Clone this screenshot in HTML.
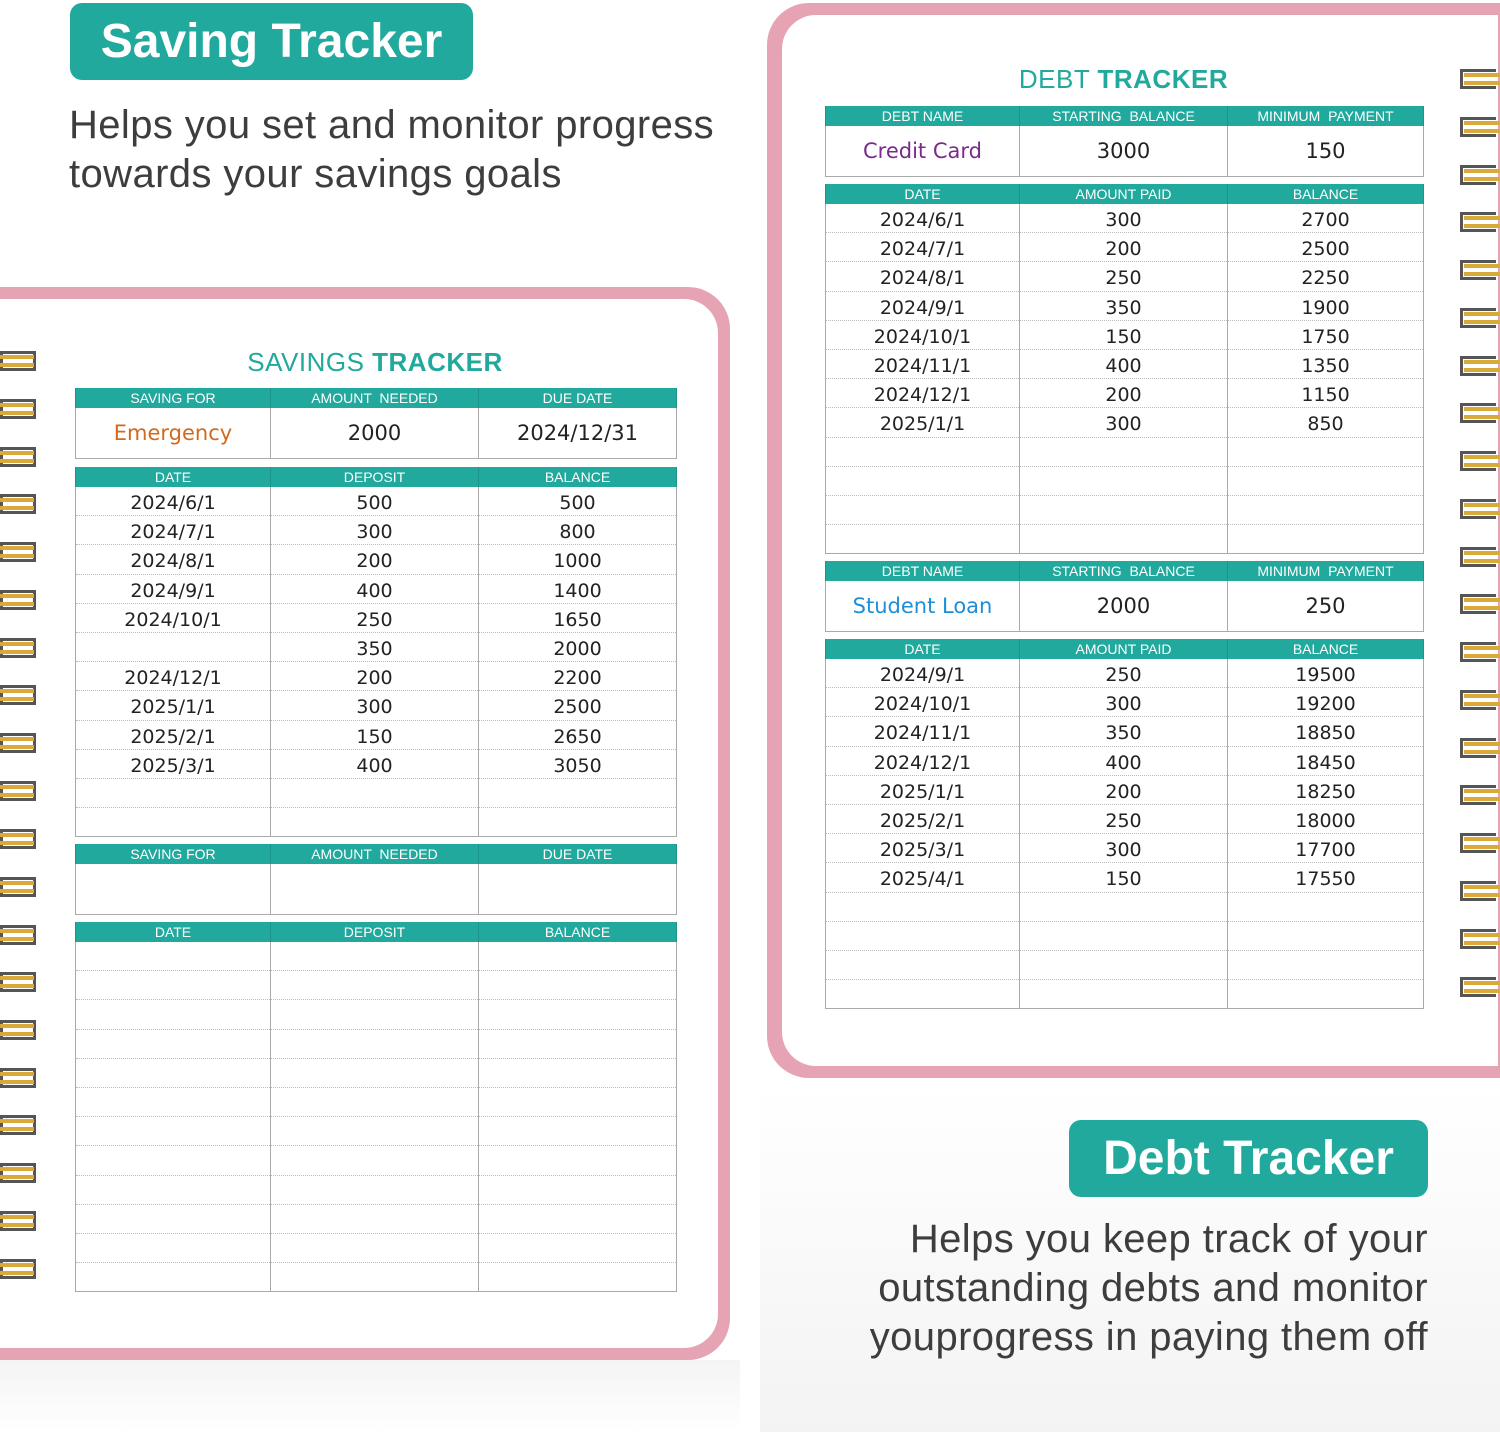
<!DOCTYPE html>
<html><head><meta charset="utf-8"><style>
body{margin:0;width:1500px;height:1432px;position:relative;overflow:hidden;background:#fff;font-family:"Liberation Sans",sans-serif}
.a{position:absolute}
.badge{background:#21a99d;color:#fff;font-weight:bold;border-radius:12px;font-size:48px;text-align:center;box-sizing:border-box}
.sub{color:#3d3d3d;font-size:40px;line-height:49px;letter-spacing:0.4px}
table{position:absolute;border-collapse:collapse;table-layout:fixed;font-family:"Liberation Sans",sans-serif}
td{border-left:1px solid #aaa;border-right:1px solid #aaa;text-align:center;padding:0;color:#222;font-size:19px;font-family:"DejaVu Sans",sans-serif;font-weight:normal}
tr.h td{background:#21a99d;color:#fff;font-size:14px;font-family:"Liberation Sans",sans-serif;height:20px;border-color:#1b9489}
tr.c td{height:50px;border-bottom:1px solid #aaa;font-size:21px}
tr.r td{border-bottom:1px dotted #bbb;padding-top:4px;height:24.2px;line-height:20px}
tr.r:last-child td{border-bottom:1px solid #aaa}
.ttl{font-size:26px;color:#21a99d;text-align:center;letter-spacing:0.5px}
</style></head><body>
<div class="a" style="left:760px;top:1085px;width:740px;height:347px;background:linear-gradient(#fff,#f3f3f3)"></div>
<div class="a" style="left:0;top:1360px;width:740px;height:72px;background:linear-gradient(#f4f4f4,#fff)"></div>

<div class="a badge" style="left:70px;top:3px;width:403px;height:77px;line-height:77px">Saving Tracker</div>
<div class="a sub" style="left:69px;top:101px">Helps you set and monitor progress<br>towards your savings goals</div>

<div class="a badge" style="left:1069px;top:1120px;width:359px;height:77px;line-height:77px">Debt Tracker</div>
<div class="a sub" style="right:72px;top:1215px;text-align:right">Helps you keep track of your<br>outstanding debts and monitor<br>youprogress in paying them off</div>

<div class="a" style="left:-40px;top:287px;width:770px;height:1073px;background:#e6a3b3;border-radius:42px"></div>
<div class="a" style="left:-40px;top:299px;width:758px;height:1049px;background:#fff;border-radius:34px"></div>
<div class="a" style="left:767px;top:3px;width:780px;height:1075px;background:#e6a3b3;border-radius:42px"></div>
<div class="a" style="left:782px;top:15px;width:716px;height:1051px;background:#fff;border-radius:34px 0 0 34px"></div>

<svg class="a" style="left:0;top:0" width="1500" height="1432">
<defs><g id="rg"><rect x="0" y="0" width="36" height="20" fill="#555"/><rect x="3" y="3" width="30" height="14" fill="#fff"/><path d="M-10 6 H34 M-10 14 H34" stroke="#d9a93a" stroke-width="4"/></g>
<g id="rg2"><rect x="0" y="0" width="36" height="20" fill="#555"/><rect x="3" y="3" width="33" height="14" fill="#fff"/><path d="M4 6 H44 M4 14 H44" stroke="#d9a93a" stroke-width="4"/></g></defs>
<use href="#rg" x="0" y="351"/><use href="#rg" x="0" y="399"/><use href="#rg" x="0" y="447"/><use href="#rg" x="0" y="494"/><use href="#rg" x="0" y="542"/><use href="#rg" x="0" y="590"/><use href="#rg" x="0" y="638"/><use href="#rg" x="0" y="685"/><use href="#rg" x="0" y="733"/><use href="#rg" x="0" y="781"/><use href="#rg" x="0" y="829"/><use href="#rg" x="0" y="877"/><use href="#rg" x="0" y="925"/><use href="#rg" x="0" y="972"/><use href="#rg" x="0" y="1020"/><use href="#rg" x="0" y="1068"/><use href="#rg" x="0" y="1115"/><use href="#rg" x="0" y="1163"/><use href="#rg" x="0" y="1211"/><use href="#rg" x="0" y="1259"/>
<use href="#rg2" x="1460" y="69"/><use href="#rg2" x="1460" y="117"/><use href="#rg2" x="1460" y="165"/><use href="#rg2" x="1460" y="212"/><use href="#rg2" x="1460" y="260"/><use href="#rg2" x="1460" y="308"/><use href="#rg2" x="1460" y="356"/><use href="#rg2" x="1460" y="403"/><use href="#rg2" x="1460" y="451"/><use href="#rg2" x="1460" y="499"/><use href="#rg2" x="1460" y="547"/><use href="#rg2" x="1460" y="594"/><use href="#rg2" x="1460" y="642"/><use href="#rg2" x="1460" y="690"/><use href="#rg2" x="1460" y="738"/><use href="#rg2" x="1460" y="785"/><use href="#rg2" x="1460" y="833"/><use href="#rg2" x="1460" y="881"/><use href="#rg2" x="1460" y="929"/><use href="#rg2" x="1460" y="977"/>
</svg>

<div class="a ttl" style="left:75px;top:347px;width:600px">SAVINGS <b>TRACKER</b></div>
<div class="a ttl" style="left:825px;top:64px;width:597px">DEBT <b>TRACKER</b></div>

<table style="left:75px;top:388px;width:601px"><col style="width:195px"><col style="width:208px"><col style="width:198px">
<tr class="h"><td>SAVING FOR</td><td>AMOUNT &nbsp;NEEDED</td><td>DUE DATE</td></tr>
<tr class="c"><td style="color:#d2691e">Emergency</td><td>2000</td><td>2024/12/31</td></tr></table>
<table style="left:75px;top:467px;width:601px"><col style="width:195px"><col style="width:208px"><col style="width:198px">
<tr class="h"><td>DATE</td><td>DEPOSIT</td><td>BALANCE</td></tr>
<tr class="r"><td>2024/6/1</td><td>500</td><td>500</td></tr>
<tr class="r"><td>2024/7/1</td><td>300</td><td>800</td></tr>
<tr class="r"><td>2024/8/1</td><td>200</td><td>1000</td></tr>
<tr class="r"><td>2024/9/1</td><td>400</td><td>1400</td></tr>
<tr class="r"><td>2024/10/1</td><td>250</td><td>1650</td></tr>
<tr class="r"><td></td><td>350</td><td>2000</td></tr>
<tr class="r"><td>2024/12/1</td><td>200</td><td>2200</td></tr>
<tr class="r"><td>2025/1/1</td><td>300</td><td>2500</td></tr>
<tr class="r"><td>2025/2/1</td><td>150</td><td>2650</td></tr>
<tr class="r"><td>2025/3/1</td><td>400</td><td>3050</td></tr>
<tr class="r"><td></td><td></td><td></td></tr>
<tr class="r"><td></td><td></td><td></td></tr></table>

<table style="left:75px;top:844px;width:601px"><col style="width:195px"><col style="width:208px"><col style="width:198px">
<tr class="h"><td>SAVING FOR</td><td>AMOUNT &nbsp;NEEDED</td><td>DUE DATE</td></tr>
<tr class="c"><td></td><td></td><td></td></tr></table>
<table style="left:75px;top:922px;width:601px"><col style="width:195px"><col style="width:208px"><col style="width:198px">
<tr class="h"><td>DATE</td><td>DEPOSIT</td><td>BALANCE</td></tr>
<tr class="r"><td></td><td></td><td></td></tr><tr class="r"><td></td><td></td><td></td></tr><tr class="r"><td></td><td></td><td></td></tr><tr class="r"><td></td><td></td><td></td></tr><tr class="r"><td></td><td></td><td></td></tr><tr class="r"><td></td><td></td><td></td></tr><tr class="r"><td></td><td></td><td></td></tr><tr class="r"><td></td><td></td><td></td></tr><tr class="r"><td></td><td></td><td></td></tr><tr class="r"><td></td><td></td><td></td></tr><tr class="r"><td></td><td></td><td></td></tr><tr class="r"><td></td><td></td><td></td></tr></table>

<table style="left:825px;top:106px;width:598px"><col style="width:194px"><col style="width:208px"><col style="width:196px">
<tr class="h"><td>DEBT NAME</td><td>STARTING &nbsp;BALANCE</td><td>MINIMUM &nbsp;PAYMENT</td></tr>
<tr class="c"><td style="color:#7b2a8c">Credit Card</td><td>3000</td><td>150</td></tr></table>
<table style="left:825px;top:184px;width:598px"><col style="width:194px"><col style="width:208px"><col style="width:196px">
<tr class="h"><td>DATE</td><td>AMOUNT PAID</td><td>BALANCE</td></tr>
<tr class="r"><td>2024/6/1</td><td>300</td><td>2700</td></tr>
<tr class="r"><td>2024/7/1</td><td>200</td><td>2500</td></tr>
<tr class="r"><td>2024/8/1</td><td>250</td><td>2250</td></tr>
<tr class="r"><td>2024/9/1</td><td>350</td><td>1900</td></tr>
<tr class="r"><td>2024/10/1</td><td>150</td><td>1750</td></tr>
<tr class="r"><td>2024/11/1</td><td>400</td><td>1350</td></tr>
<tr class="r"><td>2024/12/1</td><td>200</td><td>1150</td></tr>
<tr class="r"><td>2025/1/1</td><td>300</td><td>850</td></tr>
<tr class="r"><td></td><td></td><td></td></tr><tr class="r"><td></td><td></td><td></td></tr><tr class="r"><td></td><td></td><td></td></tr><tr class="r"><td></td><td></td><td></td></tr></table>

<table style="left:825px;top:561px;width:598px"><col style="width:194px"><col style="width:208px"><col style="width:196px">
<tr class="h"><td>DEBT NAME</td><td>STARTING &nbsp;BALANCE</td><td>MINIMUM &nbsp;PAYMENT</td></tr>
<tr class="c"><td style="color:#1e8fd6">Student Loan</td><td>2000</td><td>250</td></tr></table>
<table style="left:825px;top:639px;width:598px"><col style="width:194px"><col style="width:208px"><col style="width:196px">
<tr class="h"><td>DATE</td><td>AMOUNT PAID</td><td>BALANCE</td></tr>
<tr class="r"><td>2024/9/1</td><td>250</td><td>19500</td></tr>
<tr class="r"><td>2024/10/1</td><td>300</td><td>19200</td></tr>
<tr class="r"><td>2024/11/1</td><td>350</td><td>18850</td></tr>
<tr class="r"><td>2024/12/1</td><td>400</td><td>18450</td></tr>
<tr class="r"><td>2025/1/1</td><td>200</td><td>18250</td></tr>
<tr class="r"><td>2025/2/1</td><td>250</td><td>18000</td></tr>
<tr class="r"><td>2025/3/1</td><td>300</td><td>17700</td></tr>
<tr class="r"><td>2025/4/1</td><td>150</td><td>17550</td></tr>
<tr class="r"><td></td><td></td><td></td></tr><tr class="r"><td></td><td></td><td></td></tr><tr class="r"><td></td><td></td><td></td></tr><tr class="r"><td></td><td></td><td></td></tr></table>
</body></html>
